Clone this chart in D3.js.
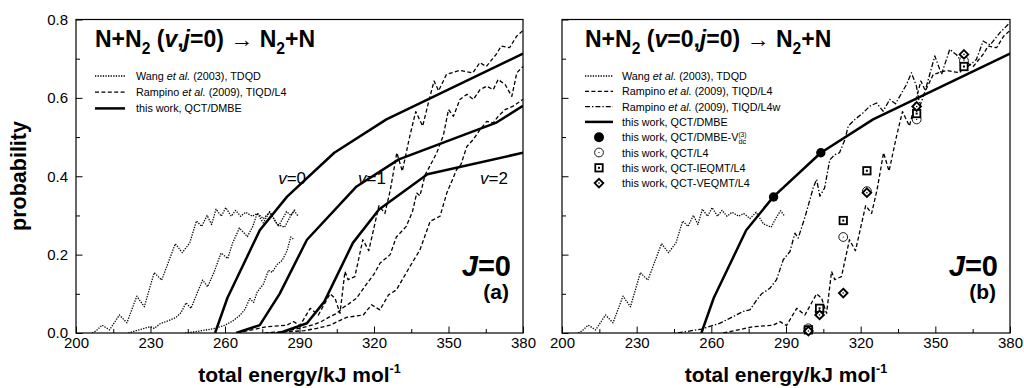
<!DOCTYPE html>
<html>
<head>
<meta charset="utf-8">
<script src="https://cdn.jsdelivr.net/npm/d3@7"></script>
<style>
  body { margin: 0; background: #fff; }
  svg { display: block; }
  text { font-family: "Liberation Sans", Arial, Helvetica, sans-serif; fill: #000; }
</style>
</head>
<body>
<svg id="chart" width="1024" height="388"></svg>
<script>
// ---------- axis ticks ----------
const energyTicks = [200, 230, 260, 290, 320, 350, 380];
const energyMinor = [215, 245, 275, 305, 335, 365];
const probTicks = [0, 0.2, 0.4, 0.6, 0.8];
const probMinor = [0.1, 0.3, 0.5, 0.7];

// ---------- Wang et al. (2003), TDQD  [energy, probability] ----------
const wangV0 = [[206.5,0],[208,0.005],[210.5,0.02],[213.5,0.008],[217.5,0.046],[220.5,0.026],[224.5,0.094],[227.5,0.067],[231.5,0.154],[234.5,0.135],[240,0.228],[242.8,0.205],[245.8,0.23],[248.5,0.286],[250.6,0.272],[252.8,0.3],[254.6,0.277],[256.4,0.316],[258.5,0.298],[260.3,0.32],[262.5,0.298],[264.3,0.313],[266.3,0.298],[268.3,0.308],[271,0.298],[273,0.305],[275.5,0.292],[278,0.308],[281,0.278],[284,0.27],[286.2,0.296],[287.8,0.312],[289.5,0.298]];
const wangV1 = [[221,0],[226.5,0.01],[229.8,0.016],[231.5,0.012],[234,0.024],[237.5,0.032],[240.3,0.04],[242.3,0.052],[244.3,0.077],[246.3,0.063],[249,0.105],[251,0.135],[253,0.118],[255.7,0.157],[258.4,0.204],[261.1,0.19],[263.1,0.23],[265.8,0.268],[269,0.246],[271.2,0.272],[273,0.306],[275.4,0.281],[278,0.31],[281.5,0.272],[284.8,0.31],[286.5,0.3],[288.2,0.315]];
const wangV2 = [[244,0],[250,0.005],[256,0.012],[260,0.02],[263,0.03],[266,0.045],[268,0.06],[270,0.088],[271.5,0.078],[273,0.105],[275.5,0.125],[277.5,0.16],[279,0.155],[281,0.175],[283,0.185],[285,0.21],[286.5,0.245],[287.5,0.24]];

// ---------- Rampino et al. (2009), TIQD/L4 ----------
const rampV0 = [[264.8,0],[276.8,0.016],[284.9,0.02],[287.6,0.029],[290.2,0.019],[294.3,0.063],[297.6,0.046],[302.3,0.1],[304.3,0.089],[306.3,0.05],[308.3,0.157],[309.6,0.136],[312.3,0.144],[315.5,0.238],[317.9,0.21],[322,0.325],[324.4,0.305],[326.6,0.366],[329.2,0.46],[331.4,0.413],[334.4,0.502],[336.8,0.565],[339.6,0.528],[342.4,0.6],[344.2,0.643],[346,0.618],[349.2,0.66],[354.5,0.67],[359.8,0.664],[362.6,0.69],[365.2,0.68],[369.2,0.711],[371.2,0.732],[374.6,0.728],[377.4,0.757],[380,0.772]];
const rampV1 = [[276,0],[282,0.003],[287,0.008],[292,0.015],[296,0.022],[299,0.03],[302.3,0.042],[305,0.05],[307.6,0.065],[310,0.075],[313,0.089],[317,0.125],[320,0.15],[322.4,0.178],[326.5,0.2],[329,0.245],[333,0.272],[335.5,0.31],[337.2,0.357],[338.5,0.35],[340.6,0.404],[342,0.42],[345.3,0.46],[348,0.506],[350,0.57],[352,0.553],[354.6,0.596],[357.4,0.609],[360,0.596],[362.7,0.621],[365.4,0.63],[368,0.621],[370,0.647],[372.8,0.634],[375.5,0.604],[377.5,0.664],[380,0.68]];
const rampV2 = [[278,0],[285,0.003],[292,0.006],[297,0.012],[302.3,0.02],[309,0.04],[315.7,0.046],[319,0.072],[322.4,0.059],[325.8,0.097],[329,0.11],[334.5,0.17],[338.5,0.212],[342.6,0.285],[346.6,0.298],[349.3,0.357],[353.3,0.417],[355,0.43],[357.4,0.476],[360,0.494],[362.7,0.519],[365.4,0.54],[368,0.536],[370,0.553],[372.8,0.57],[376,0.579],[380,0.596]];

// ---------- Rampino et al. (2009), TIQD/L4w (v=0) ----------
const rampL4w = [[246.5,0],[256,0.01],[263.5,0.025],[268.8,0.042],[272.8,0.055],[275.5,0.059],[278.2,0.084],[280.2,0.1],[283.5,0.114],[286.2,0.136],[288.9,0.187],[291.6,0.208],[293.6,0.255],[294.9,0.242],[297.6,0.295],[299.6,0.34],[301,0.372],[302.3,0.392],[303.6,0.349],[305.5,0.37],[307.6,0.442],[309.6,0.455],[311.5,0.46],[313.7,0.494],[315,0.528],[317.7,0.545],[321,0.562],[323.7,0.579],[326.4,0.587],[329,0.566],[331.7,0.596],[334,0.585],[338.4,0.634],[340.4,0.664],[342.4,0.63],[343.8,0.579],[346,0.62],[349.8,0.707],[352.5,0.66],[355.8,0.724],[358.5,0.71],[362.5,0.677],[366.5,0.698],[369.2,0.745],[372,0.735],[375.9,0.766],[380,0.792]];

// ---------- this work, QCT/DMBE ----------
const qctV0 = [[256,0],[261,0.09],[274,0.262],[285,0.348],[304,0.46],[325,0.545],[380,0.713]];
const qctV1 = [[264.5,0],[274,0.02],[282,0.1],[293,0.238],[313,0.374],[330,0.443],[369,0.536],[380,0.58]];
const qctV2 = [[282,0],[293,0.025],[300,0.08],[311.5,0.23],[322,0.315],[341.5,0.405],[380,0.46]];

// ---------- this work, single-energy points (v=0) ----------
const vdcEnergy = [285, 304];
const vdcProb = [0.347, 0.46];
const pointEnergy = [299, 303.5, 313, 322.5, 342.5, 361.5];
const l4Prob = [0.012, 0.055, 0.245, 0.362, 0.545, 0.695];
const ieqmtProb = [0.008, 0.063, 0.287, 0.414, 0.56, 0.68];
const veqmtProb = [0.005, 0.046, 0.102, 0.358, 0.578, 0.711];

// ---------- curve labels (panel a) ----------
const vLabels = ["0", "1", "2"];
const vLabelEnergy = [281.4, 313.6, 362.7];
const vLabelProb = [0.381, 0.381, 0.381];

// ---------- drawing ----------
const svg = d3.select("#chart");

const styles = {
  dotted:  { w: 1.3, dash: "1.3 1.3" },
  dashed:  { w: 1.3, dash: "4 2.4" },
  dashdot: { w: 1.3, dash: "5 2 1.4 2" },
  solid:   { w: 2.5, dash: null }
};

function applyStyle(sel, kind) {
  const s = styles[kind];
  sel.attr("fill", "none").attr("stroke", "#000")
     .attr("stroke-width", s.w).attr("stroke-linejoin", "round");
  if (s.dash) sel.attr("stroke-dasharray", s.dash);
  return sel;
}

// rich text: segments {t, it, sub, sup, scale, shift, under, weight}
function richText(parent, x, y, size, segs, opts = {}) {
  const t = parent.append("text")
    .attr("x", x).attr("y", y)
    .attr("font-size", size)
    .attr("font-weight", opts.bold ? "bold" : "normal")
    .attr("text-anchor", opts.anchor || "start");
  if (opts.transform) t.attr("transform", opts.transform);
  let cur = 0, prev = null;
  segs.forEach(s => {
    const fs = (s.sub || s.sup) ? size * (s.scale || 0.68) : size;
    const target = s.sub ? size * (s.shift || 0.3) : s.sup ? -size * (s.shift || 0.42) : 0;
    const ts = t.append("tspan").text(s.t).attr("font-size", fs);
    if (target !== cur) ts.attr("dy", target - cur);
    cur = target;
    if (s.it) ts.attr("font-style", "italic");
    if (s.weight) ts.attr("font-weight", s.weight);
    if (s.under && prev) ts.attr("dx", -prev.node().getComputedTextLength());
    prev = ts;
  });
  return t;
}

function drawMarker(parent, type, cx, cy, legend) {
  if (type === "filled") {
    parent.append("circle").attr("cx", cx).attr("cy", cy).attr("r", legend ? 5 : 4.7).attr("fill", "#000");
  } else if (type === "open") {
    parent.append("circle").attr("cx", cx).attr("cy", cy).attr("r", 4.4)
      .attr("fill", "#fff").attr("stroke", "#000").attr("stroke-width", 0.9);
    parent.append("circle").attr("cx", cx).attr("cy", cy).attr("r", 0.6).attr("fill", "#000");
  } else if (type === "square") {
    parent.append("rect").attr("x", cx - 3.7).attr("y", cy - 3.7).attr("width", 7.4).attr("height", 7.4)
      .attr("fill", "#fff").attr("stroke", "#000").attr("stroke-width", 1.8);
    parent.append("rect").attr("x", cx - 1).attr("y", cy - 1).attr("width", 2).attr("height", 2).attr("fill", "#000");
  } else if (type === "diamond") {
    const r = 4.3;
    parent.append("path").attr("d", `M${cx},${cy - r}L${cx + r},${cy}L${cx},${cy + r}L${cx - r},${cy}Z`)
      .attr("fill", "#fff").attr("stroke", "#000").attr("stroke-width", 1.9);
    parent.append("circle").attr("cx", cx).attr("cy", cy).attr("r", 0.8).attr("fill", "#000");
  }
}

function drawPanel(left, right, cfg) {
  const x = d3.scaleLinear().domain([200, 380]).range([left, right]);
  const y = d3.scaleLinear().domain([0, 0.8]).range([333, 19.5]);
  const g = svg.append("g");
  const line = d3.line().x(d => x(d[0])).y(d => y(d[1]));

  // axes: minor and major inward ticks
  const axisStyle = sel => {
    sel.select(".domain").remove();
    sel.selectAll(".tick line").attr("stroke", "#000").attr("stroke-width", 1);
    sel.selectAll(".tick text").attr("font-size", 15)
      .attr("font-family", '"Liberation Sans", Arial, Helvetica, sans-serif').attr("fill", "#000");
  };
  g.append("g").attr("transform", `translate(0,${y(0)})`)
    .call(d3.axisBottom(x).tickValues(energyMinor).tickSize(-4).tickSizeOuter(0).tickFormat(""))
    .call(axisStyle);
  g.append("g").attr("transform", `translate(0,${y(0)})`)
    .call(d3.axisBottom(x).tickValues(energyTicks).tickSize(-6.5).tickSizeOuter(0).tickPadding(4).tickFormat(d3.format("d")))
    .call(axisStyle);
  g.append("g").attr("transform", `translate(${x(200)},0)`)
    .call(d3.axisLeft(y).tickValues(probMinor).tickSize(-4).tickSizeOuter(0).tickFormat(""))
    .call(axisStyle);
  g.append("g").attr("transform", `translate(${x(200)},0)`)
    .call(d3.axisLeft(y).tickValues(probTicks).tickSize(-6.5).tickSizeOuter(0).tickPadding(8)
      .tickFormat(cfg.yLabels ? d3.format(".1f") : () => ""))
    .call(axisStyle);

  // frame
  g.append("rect")
    .attr("x", x(200)).attr("y", y(0.8))
    .attr("width", x(380) - x(200)).attr("height", y(0) - y(0.8))
    .attr("fill", "none").attr("stroke", "#000").attr("stroke-width", 1.2);

  const clipId = "clip" + Math.round(left);
  g.append("clipPath").attr("id", clipId).append("rect")
    .attr("x", x(200)).attr("y", y(0.8) - 2)
    .attr("width", x(380) - x(200)).attr("height", y(0) - y(0.8) + 2);
  const plot = g.append("g").attr("clip-path", `url(#${clipId})`);

  cfg.curves.forEach(c => {
    plot.append("path").datum(c.data).attr("d", line).call(applyStyle, c.kind);
  });

  // title
  richText(g, cfg.titleX, 47, 23, cfg.title, { bold: true });

  // legend
  cfg.legend.forEach((item, i) => {
    const cy = 76 + cfg.legendStep * i;
    if (item.kind) {
      g.append("line").attr("x1", cfg.legX0).attr("x2", cfg.legX1).attr("y1", cy).attr("y2", cy)
        .call(applyStyle, item.kind);
    } else {
      drawMarker(g, item.marker, (cfg.legX0 + cfg.legX1) / 2, cy, true);
    }
    richText(g, cfg.legText, cy + 4, 10.8, item.label);
  });

  // J=0 and panel tag
  richText(g, x(380) - 12, 276, 29, [{ t: "J", it: true }, { t: "=0" }], { bold: true, anchor: "end" });
  richText(g, x(380) - 14, 299, 21, [{ t: cfg.tag }], { bold: true, anchor: "end" });

  // x-axis title
  richText(g, (x(200) + x(380)) / 2, 382, 21,
    [{ t: "total energy/kJ mol" }, { t: "-1", sup: true, scale: 0.6, shift: 0.45 }],
    { bold: true, anchor: "middle" });

  return { g, x, y, plot };
}

const wangLabel = [{ t: "Wang " }, { t: "et al.", it: true }, { t: " (2003), TDQD" }];
const rampL4Label = [{ t: "Rampino " }, { t: "et al.", it: true }, { t: " (2009), TIQD/L4" }];
const rampL4wLabel = [{ t: "Rampino " }, { t: "et al.", it: true }, { t: " (2009), TIQD/L4w" }];
const qctLabel = [{ t: "this work, QCT/DMBE" }];

// panel (a)
const pa = drawPanel(76, 523, {
  yLabels: true,
  titleX: 95,
  title: [{ t: "N+N" }, { t: "2", sub: true }, { t: " (" }, { t: "v", it: true }, { t: "," }, { t: "j", it: true },
          { t: "=0) " }, { t: "\u2192", weight: "normal" }, { t: " N" }, { t: "2", sub: true }, { t: "+N" }],
  curves: [
    { data: wangV0, kind: "dotted" }, { data: wangV1, kind: "dotted" }, { data: wangV2, kind: "dotted" },
    { data: rampV0, kind: "dashed" }, { data: rampV1, kind: "dashed" }, { data: rampV2, kind: "dashed" },
    { data: qctV0, kind: "solid" }, { data: qctV1, kind: "solid" }, { data: qctV2, kind: "solid" }
  ],
  legend: [
    { kind: "dotted", label: wangLabel },
    { kind: "dashed", label: rampL4Label },
    { kind: "solid", label: qctLabel }
  ],
  legendStep: 16.2, legX0: 95, legX1: 125, legText: 136,
  tag: "(a)"
});
vLabels.forEach((v, i) => {
  richText(pa.g, pa.x(vLabelEnergy[i]), pa.y(vLabelProb[i]), 17, [{ t: "v", it: true }, { t: "=" + v }]);
});

// panel (b)
const pb = drawPanel(562, 1010, {
  yLabels: false,
  titleX: 585,
  title: [{ t: "N+N" }, { t: "2", sub: true }, { t: " (" }, { t: "v", it: true }, { t: "=0," }, { t: "j", it: true },
          { t: "=0) " }, { t: "\u2192", weight: "normal" }, { t: " N" }, { t: "2", sub: true }, { t: "+N" }],
  curves: [
    { data: wangV0, kind: "dotted" },
    { data: rampV0, kind: "dashed" },
    { data: rampL4w, kind: "dashdot" },
    { data: qctV0, kind: "solid" }
  ],
  legend: [
    { kind: "dotted", label: wangLabel },
    { kind: "dashed", label: rampL4Label },
    { kind: "dashdot", label: rampL4wLabel },
    { kind: "solid", label: qctLabel },
    { marker: "filled", label: [{ t: "this work, QCT/DMBE-V" }, { t: "(3)", sup: true, scale: 0.62, shift: 0.4 }, { t: "dc", sub: true, scale: 0.68, shift: 0.28, under: true }] },
    { marker: "open", label: [{ t: "this work, QCT/L4" }] },
    { marker: "square", label: [{ t: "this work, QCT-IEQMT/L4" }] },
    { marker: "diamond", label: [{ t: "this work, QCT-VEQMT/L4" }] }
  ],
  legendStep: 15.3, legX0: 585, legX1: 613, legText: 622,
  tag: "(b)"
});

pointEnergy.forEach((e, i) => drawMarker(pb.g, "open", pb.x(e), pb.y(l4Prob[i])));
pointEnergy.forEach((e, i) => drawMarker(pb.g, "square", pb.x(e), pb.y(ieqmtProb[i])));
pointEnergy.forEach((e, i) => drawMarker(pb.g, "diamond", pb.x(e), pb.y(veqmtProb[i])));
vdcEnergy.forEach((e, i) => drawMarker(pb.g, "filled", pb.x(e), pb.y(vdcProb[i])));

// shared y-axis title
svg.append("text")
  .attr("transform", "translate(26,176) rotate(-90)")
  .attr("text-anchor", "middle")
  .attr("font-size", 21.5).attr("font-weight", "bold")
  .text("probability");
</script>
</body>
</html>
